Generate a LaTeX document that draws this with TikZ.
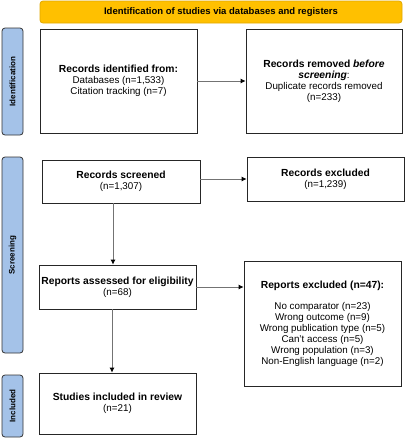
\documentclass[tikz,border=0pt]{standalone}
\usepackage{fontspec}
\setmainfont{Liberation Sans}
\usetikzlibrary{arrows.meta,calc}
\begin{document}
\begin{tikzpicture}[x=1pt,y=-1pt,
  stagebox/.style={draw=black!85, line width=0.8pt, fill=white, align=center, inner sep=0pt,
    font=\fontsize{9.8}{11}\selectfont},
  sidelabel/.style={draw=black!80, line width=0.8pt, fill=sideblue, rounded corners=3pt, rotate=90,
    inner sep=0pt, font=\fontsize{8}{9}\selectfont\bfseries},
  arr/.style={draw=black!55, line width=0.8pt, -{Latex[length=5pt,width=5pt,color=black]}}]
\definecolor{sideblue}{HTML}{A4C2E8}
\definecolor{bannerfill}{HTML}{FFC000}
\definecolor{bannerdraw}{HTML}{E0A800}
\newcommand{\hb}[1]{{\fontsize{10.3}{11}\selectfont\bfseries #1}}
\useasboundingbox (0,0) rectangle (406,440);
% banner
\node[draw=bannerdraw, line width=0.8pt, fill=bannerfill, rounded corners=3pt, minimum width=362pt, minimum height=22pt,
  inner sep=0pt, font=\fontsize{9.5}{11}\selectfont\bfseries] (banner) at (221,12)
  {Identification of studies via databases and registers};
% side labels
\node[sidelabel, minimum width=107pt, minimum height=21pt] (lidn) at (12.5,81.5) {Identification};
\node[sidelabel, minimum width=196pt, minimum height=21pt] (lscr) at (12.5,255) {Screening};
\node[sidelabel, minimum width=62pt, minimum height=21pt] (linc) at (12.5,406) {Included};
% boxes
\node[stagebox, minimum width=157pt, minimum height=104pt] (ident) at (118.5,81)
  {\hb{Records identified from:}\\Databases (n=1,533)\\Citation tracking (n=7)};
\node[stagebox, minimum width=156pt, minimum height=104pt] (dup) at (324,81)
  {\hb{Records removed \textit{before}}\\\hb{\textit{screening}}:\\Duplicate records removed\\(n=233)};
\node[stagebox, minimum width=158pt, minimum height=43pt] (scr) at (121,181.5)
  {\hb{Records screened}\\(n=1,307)};
\node[stagebox, minimum width=157pt, minimum height=44pt] (excl) at (325.5,179)
  {\hb{Records excluded}\\(n=1,239)};
\node[stagebox, minimum width=157pt, minimum height=44pt] (assess) at (117.5,287)
  {\hb{Reports assessed for eligibility}\\(n=68)};
\node[stagebox, minimum width=157pt, minimum height=125pt] (rexcl) at (322.5,323.5)
  {\hb{Reports excluded (n=47):}\\[10pt]No comparator (n=23)\\Wrong outcome (n=9)\\Wrong publication type (n=5)\\Can't access (n=5)\\Wrong population (n=3)\\Non-English language (n=2)};
\node[stagebox, minimum width=157pt, minimum height=61pt] (incl) at (117.5,403.5)
  {\hb{Studies included in review}\\(n=21)};
% connectors
\coordinate (c1) at ($(assess.north)+(-4.5,0)$);
\coordinate (c2) at ($(assess.south)+(-5.5,0)$);
\draw[arr] (ident.east) -- (dup.west);
\draw[arr] (scr.east |- excl.west) -- (excl.west);
\draw[arr] (assess.east) -- (assess.east -| rexcl.west);
\draw[arr] (c1 |- scr.south) -- (c1);
\draw[arr] (c2) -- (c2 |- incl.north);
\end{tikzpicture}
\end{document}
